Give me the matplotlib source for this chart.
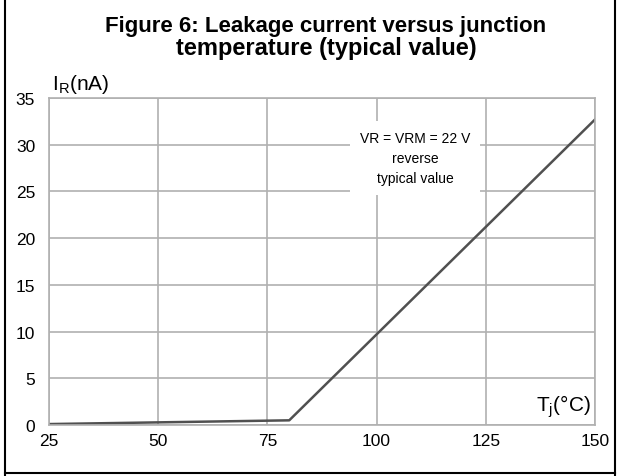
import matplotlib.pyplot as plt

# data
temp = [25, 80, 150]
leak = [0.1, 0.5, 32.7]
xticks = [25, 50, 75, 100, 125, 150]
yticks = [0, 5, 10, 15, 20, 25, 30, 35]

font = 'Liberation Sans'

fig = plt.figure(figsize=(6.21, 4.77), dpi=100)
ax = fig.add_axes([49/621, 1 - 426/477, 546/621, 327/477])

ax.plot(temp, leak, color='#505050', lw=1.8)
ax.set_xlim(25, 150)
ax.set_ylim(0, 35)
ax.set_xticks(xticks)
ax.set_yticks(yticks)
ax.grid(True, color='#b0b0b0', lw=1.2)
ax.set_axisbelow(True)
for s in ax.spines.values():
    s.set_color('#b0b0b0')
    s.set_linewidth(1.2)
ax.tick_params(length=0, labelsize=12.5)
ax.tick_params(axis='x', pad=6)
ax.tick_params(axis='y', pad=10)
for lab in ax.get_xticklabels() + ax.get_yticklabels():
    lab.set_family(font)

ax.text(108.8, 28.6, 'VR = VRM = 22 V\nreverse\ntypical value',
        ha='center', va='center', fontsize=10, family=font,
        linespacing=1.55,
        bbox=dict(facecolor='white', edgecolor='none', pad=7))

fig.text(52/621, 1 - 90/477, r'I$_\mathregular{R}$(nA)', fontsize=15,
         family=font, ha='left', va='baseline')
fig.text(591/621, 1 - 411/477, r'T$_\mathregular{j}$(°C)', fontsize=15,
         family=font, ha='right', va='baseline')

# title, two lines
fig.text(0.525, 1 - 32/477, 'Figure 6: Leakage current versus junction',
         ha='center', va='baseline', fontsize=16, fontweight='bold', family=font)
fig.text(0.525, 1 - 55/477, 'temperature (typical value)',
         ha='center', va='baseline', fontsize=17, fontweight='bold', family=font)

# figure frame
fig.add_artist(plt.Line2D([5/621, 5/621], [0, 1], color='black', lw=1.5,
                          transform=fig.transFigure))
fig.add_artist(plt.Line2D([615/621, 615/621], [0, 1], color='black', lw=1.5,
                          transform=fig.transFigure))
fig.add_artist(plt.Line2D([5/621, 615/621], [1 - 474/477, 1 - 474/477], color='black',
                          lw=1.5, transform=fig.transFigure))

fig.savefig('out.png', dpi=100)
